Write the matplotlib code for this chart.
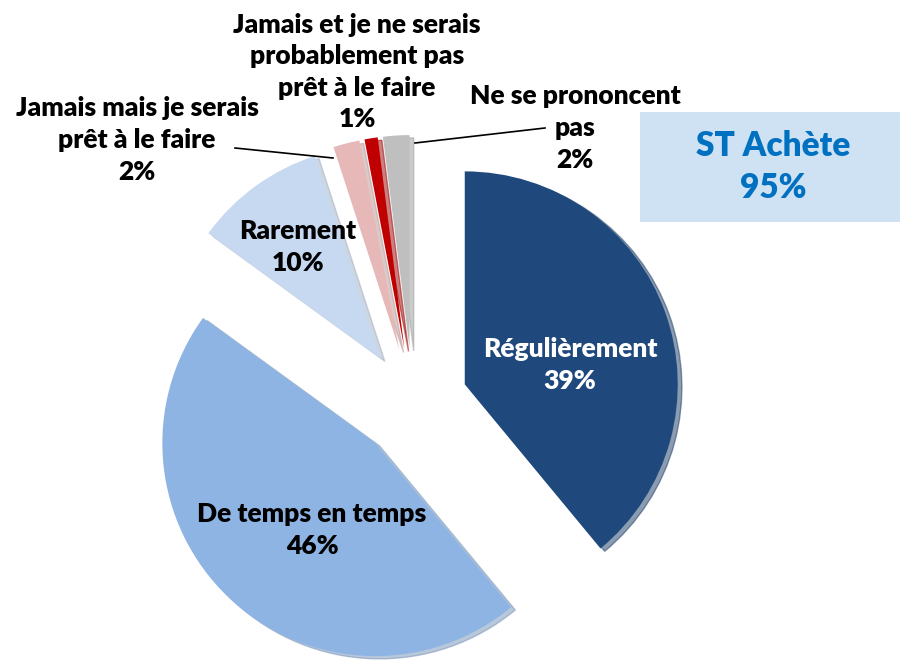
import matplotlib as mpl
mpl.use("Agg")
import matplotlib.pyplot as plt

plt.rcParams["font.family"] = ["Lato", "DejaVu Sans"]

labels = [
    "Régulièrement",
    "De temps en temps",
    "Rarement",
    "Jamais mais je serais\nprêt à le faire",
    "Jamais et je ne serais\nprobablement pas\nprêt à le faire",
    "Ne se prononcent\npas",
]
values = [39, 46, 10, 2, 1, 2]
colors = ["#1F497D", "#8EB4E3", "#C6D9F1", "#E6B9B8", "#C00000", "#BFBFBF"]
summary_label = "ST Achète"
summary_value = 95

W, H = 904, 663
fig = plt.figure(figsize=(W / 100, H / 100), dpi=100)
ax = fig.add_axes([0, 0, 1, 1])

# explode is in data units here (pixels)
wedges, _ = ax.pie(values, colors=colors, startangle=90, counterclock=False,
                   center=(413, H - 403), radius=213, explode=[55] * 6,
                   shadow={"ox": 3, "oy": -2, "shade": 0.2})
ax.set_xlim(0, W)
ax.set_ylim(0, H)
ax.axis("off")

# label positions in pixel coords (x, y from top)
pos = [(570, 365), (312, 530), (298, 247), (137, 140), (357, 72), (575, 128)]
txt_col = ["white", "black", "black", "black", "black", "black"]
for lab, v, (x, y), c in zip(labels, values, pos, txt_col):
    ax.text(x, H - y, f"{lab}\n{v}%", ha="center", va="center", color=c,
            fontsize=19, fontweight="heavy", linespacing=1.38)

# leader lines
ax.plot([235, 333], [H - 148, H - 158], color="black", lw=1.2)
ax.plot([415, 545], [H - 143, H - 128], color="black", lw=1.2)

ax.add_patch(plt.Rectangle((640, H - 222), 260, 110, facecolor="#CFE2F3",
                           edgecolor="none"))
ax.text(773, H - 167, f"{summary_label}\n{summary_value}%", ha="center",
        va="center", color="#0070C0", fontsize=24, fontweight="heavy",
        linespacing=1.4)

fig.savefig("out.png", dpi=100)
